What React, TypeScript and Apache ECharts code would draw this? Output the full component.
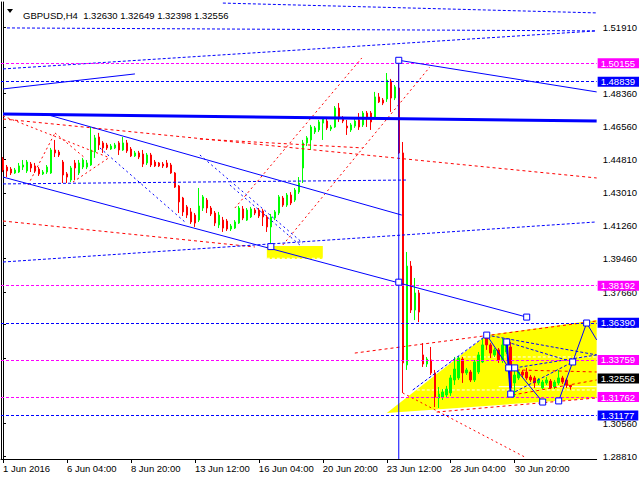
import React, { useEffect, useRef } from "react";
import * as echarts from "echarts";

// ---------- data ----------
const headerSymbol = "GBPUSD,H4";
const headerOHLC = [1.3263, 1.32649, 1.32398, 1.32556];

const timeLabels = ["1 Jun 2016", "6 Jun 04:00", "8 Jun 20:00", "13 Jun 12:00", "16 Jun 04:00", "20 Jun 20:00", "23 Jun 12:00", "28 Jun 04:00", "30 Jun 20:00"];
const barsPerLabel = 16;
const barSlots = 149;

const priceTicks = [1.5191, 1.4836, 1.4656, 1.4481, 1.4301, 1.4126, 1.3946, 1.3766, 1.3591, 1.3411, 1.3056, 1.2881];
const priceMin = 1.28659;
const priceMax = 1.53298;

const opens = [
  1.4483, 1.444, 1.4429, 1.4408, 1.4413, 1.444, 1.4419, 1.4456, 1.4446, 1.4429,
  1.4403, 1.4413, 1.4408, 1.4532, 1.4521, 1.4467, 1.4403, 1.437, 1.4462, 1.4408,
  1.444, 1.444, 1.4451, 1.4521, 1.4602, 1.457, 1.4559, 1.4537, 1.4543, 1.457,
  1.4532, 1.457, 1.4537, 1.45, 1.4516, 1.451, 1.4462, 1.4505, 1.4467, 1.4462,
  1.4456, 1.4462, 1.4451, 1.4408, 1.4338, 1.4273, 1.4225, 1.4198, 1.4181, 1.4154,
  1.4219, 1.4262, 1.4219, 1.4192, 1.4128, 1.4154, 1.4149, 1.4106, 1.4111, 1.4138,
  1.4214, 1.4154, 1.4171, 1.4208, 1.4208, 1.4203, 1.4171, 1.4117, 1.4165, 1.4192,
  1.4273, 1.4235, 1.4289, 1.4262, 1.4305, 1.4435, 1.457, 1.4586, 1.4629, 1.464,
  1.4677, 1.4688, 1.4645, 1.4656, 1.4758, 1.4704, 1.4661, 1.464, 1.4661, 1.4694,
  1.4667, 1.4731, 1.4731, 1.471, 1.4818, 1.4801, 1.4807, 1.4904, 1.4812, 1.4866,
  1.4516, 1.3373, 1.3906, 1.3669, 1.3761, 1.3427, 1.3378, 1.34, 1.333, 1.3195,
  1.32, 1.3211, 1.3222, 1.3292, 1.3303, 1.3405, 1.333, 1.3335, 1.3292, 1.3335,
  1.3389, 1.3518, 1.3481, 1.3427, 1.3454, 1.34, 1.3443, 1.347, 1.3276, 1.3303,
  1.3335, 1.3335, 1.3308, 1.3303, 1.3276, 1.3249, 1.3276, 1.3286, 1.3254, 1.3276,
  1.3303, 1.3292, 1.3263,
];
const closes = [
  1.4424, 1.4419, 1.4408, 1.4424, 1.4446, 1.4451, 1.4467, 1.4435, 1.4419, 1.4403,
  1.4413, 1.444, 1.4532, 1.4516, 1.4505, 1.4397, 1.4386, 1.4435, 1.4435, 1.4462,
  1.4478, 1.4462, 1.4532, 1.4597, 1.4559, 1.4543, 1.4543, 1.4553, 1.4559, 1.4532,
  1.457, 1.4527, 1.45, 1.4516, 1.4494, 1.4456, 1.4505, 1.4451, 1.4446, 1.4446,
  1.4446, 1.444, 1.4408, 1.4332, 1.4252, 1.4198, 1.4181, 1.4144, 1.4138, 1.423,
  1.4279, 1.4219, 1.4187, 1.4138, 1.4181, 1.4111, 1.4106, 1.4122, 1.4144, 1.4219,
  1.4165, 1.4208, 1.4214, 1.4192, 1.4176, 1.4171, 1.4117, 1.4171, 1.4198, 1.4279,
  1.4235, 1.4289, 1.4246, 1.4316, 1.4354, 1.457, 1.4597, 1.4656, 1.4651, 1.4683,
  1.4699, 1.4651, 1.4656, 1.4758, 1.471, 1.4688, 1.4651, 1.4667, 1.4688, 1.4656,
  1.4731, 1.4704, 1.4683, 1.4818, 1.4791, 1.4785, 1.4909, 1.4812, 1.4872, 1.4516,
  1.3384, 1.3906, 1.3669, 1.3761, 1.3658, 1.3378, 1.3405, 1.333, 1.32, 1.3216,
  1.3227, 1.3243, 1.3303, 1.3351, 1.341, 1.333, 1.3346, 1.3292, 1.3389, 1.3427,
  1.3481, 1.3481, 1.3437, 1.3454, 1.34, 1.3481, 1.3491, 1.3249, 1.3319, 1.3335,
  1.3319, 1.3303, 1.3292, 1.3276, 1.3292, 1.3281, 1.3292, 1.3249, 1.3281, 1.3303,
  1.3281, 1.3265, 1.32556,
];
const lows = [
  1.4413, 1.4386, 1.4397, 1.4403, 1.4408, 1.4424, 1.4408, 1.4413, 1.4408, 1.4392,
  1.4397, 1.4403, 1.4403, 1.4494, 1.4494, 1.4354, 1.4354, 1.4359, 1.437, 1.4397,
  1.4429, 1.4429, 1.4446, 1.4489, 1.4532, 1.4516, 1.4532, 1.4532, 1.4537, 1.4505,
  1.4527, 1.4516, 1.4494, 1.4494, 1.4483, 1.444, 1.4451, 1.444, 1.444, 1.444,
  1.4435, 1.4435, 1.4403, 1.4327, 1.4192, 1.4176, 1.4165, 1.4133, 1.4117, 1.4144,
  1.4203, 1.4192, 1.4176, 1.4122, 1.4111, 1.409, 1.4095, 1.4095, 1.4106, 1.4133,
  1.4154, 1.4149, 1.4165, 1.4181, 1.4165, 1.4122, 1.409, 1.403, 1.4154, 1.4181,
  1.4225, 1.4225, 1.4235, 1.4252, 1.4295, 1.4354, 1.4553, 1.4532, 1.4618, 1.4629,
  1.4586, 1.464, 1.4634, 1.4651, 1.4683, 1.4677, 1.4613, 1.4629, 1.4651, 1.464,
  1.4656, 1.4656, 1.464, 1.4699, 1.4785, 1.4774, 1.4791, 1.4737, 1.4801, 1.451,
  1.3222, 1.3346, 1.3653, 1.3615, 1.3604, 1.3362, 1.3362, 1.3319, 1.3146, 1.3141,
  1.3184, 1.32, 1.3206, 1.3265, 1.3292, 1.3276, 1.3319, 1.3281, 1.3281, 1.3324,
  1.3384, 1.3454, 1.341, 1.3416, 1.3384, 1.3384, 1.3432, 1.32, 1.32, 1.3292,
  1.3308, 1.3292, 1.3281, 1.3249, 1.3265, 1.3243, 1.3265, 1.3243, 1.3243, 1.3265,
  1.327, 1.3249, 1.32398,
];
const highs = [
  1.4494, 1.4451, 1.444, 1.4435, 1.4462, 1.4478, 1.4478, 1.4467, 1.4462, 1.444,
  1.4424, 1.4451, 1.4543, 1.4586, 1.4532, 1.4478, 1.4413, 1.4446, 1.4478, 1.4478,
  1.4489, 1.4478, 1.4656, 1.4613, 1.4624, 1.458, 1.457, 1.4564, 1.457, 1.458,
  1.4602, 1.4586, 1.4548, 1.4527, 1.4527, 1.4532, 1.4516, 1.4516, 1.4478, 1.4467,
  1.4467, 1.4478, 1.4462, 1.4413, 1.4343, 1.4279, 1.4235, 1.4219, 1.4192, 1.4327,
  1.4289, 1.4273, 1.423, 1.4203, 1.4198, 1.4171, 1.416, 1.4133, 1.4154, 1.423,
  1.423, 1.4219, 1.4225, 1.4219, 1.4219, 1.4214, 1.4181, 1.4187, 1.4208, 1.4289,
  1.4284, 1.43, 1.4305, 1.4327, 1.4386, 1.4586, 1.4607, 1.4667, 1.4661, 1.4694,
  1.471, 1.4699, 1.4667, 1.4769, 1.4785, 1.4715, 1.4694, 1.4677, 1.4699, 1.4731,
  1.4742, 1.4742, 1.4742, 1.4845, 1.4839, 1.4812, 1.4947, 1.4915, 1.4882, 1.5015,
  1.4575, 1.3982, 1.3933, 1.3842, 1.3777, 1.3491, 1.3416, 1.347, 1.3346, 1.3254,
  1.3243, 1.326, 1.3319, 1.3416, 1.3421, 1.3416, 1.3357, 1.3346, 1.34, 1.3443,
  1.3518, 1.3545, 1.3491, 1.3464, 1.3464, 1.3518, 1.3507, 1.3497, 1.3357, 1.3346,
  1.3346, 1.3357, 1.3319, 1.3314, 1.3303, 1.3292, 1.3308, 1.3297, 1.3292, 1.3346,
  1.3314, 1.3303, 1.32649,
];

// horizontal levels with value labels
const magentaLevels = [1.50155, 1.38192, 1.33759, 1.31762];
const blueLevels = [1.48839, 1.3639, 1.31177];
const currentPrice = 1.32556;

// drawn objects: [barIndex, price] pairs
const blueThickLines = [[[0, 1.4726], [148.5, 1.4688]]];
const blueSolidLines = [
  [[0, 1.4861], [33, 1.4942]],
  [[99, 1.50155], [148.5, 1.4845]],
  [[10.5, 1.4726], [99.75, 1.4181]],
  [[0, 1.4386], [131, 1.3631]],
  [[99, 1.50155], [99, 1.2866]],
  [[121, 1.3534], [126.5, 1.3357]],
  [[128, 1.3357], [135, 1.3173]],
  [[139, 1.3179], [146, 1.3599]],
  [[146, 1.3599], [148.5, 1.3508]],
];
const blueBoldShort = [[[126, 1.3497], [127, 1.3216]]];
const blueDashedLines = [
  [[55, 1.5324], [148.5, 1.5271]],
  [[1, 1.519], [148.5, 1.5174]],
  [[0, 1.4969], [148.5, 1.5174]],
  [[0, 1.4349], [101.25, 1.437]],
  [[0, 1.3928], [148.5, 1.4144]],
  [[121, 1.3534], [148.5, 1.3427]],
  [[102.5, 1.3238], [121, 1.3534]],
  [[126, 1.3497], [142.5, 1.3389]],
  [[127, 1.3216], [142.5, 1.3389]],
  [[128, 1.3357], [148.5, 1.3427]],
];
const blueDottedLines = [
  [[24.25, 1.4543], [45.5, 1.4144]],
  [[49.25, 1.4505], [75, 1.403]],
  [[56.75, 1.4343], [74.25, 1.402]],
];
const redDashedLines = [
  [[0, 1.4699], [148.5, 1.4381]],
  [[0, 1.4149], [63, 1.4009]],
  [[49.25, 1.4591], [90, 1.4543]],
  [[88, 1.3437], [148.5, 1.361]],
  [[108.5, 1.3119], [148.5, 1.3195]],
  [[127.5, 1.3211], [148.5, 1.3292]],
  [[128.5, 1.3346], [148.5, 1.3335]],
];
const redDottedLines = [
  [[58, 1.4219], [89.75, 1.5028]],
  [[70, 1.402], [106.75, 1.4979]],
  [[100, 1.3222], [131, 1.2871]],
  [[6.25, 1.4343], [13, 1.4624]],
  [[13, 1.4624], [20.5, 1.4489]],
  [[17.5, 1.4359], [26.75, 1.4494]],
  [[0, 1.4715], [26.75, 1.4489]],
];
const whiteDashedLines = [
  [[101, 1.3238], [148.5, 1.3238]],
  [[110, 1.3416], [148.5, 1.3416]],
  [[66, 1.3948], [80, 1.3948]],
];
const whiteSolidLines = [[[124, currentPrice], [148.5, currentPrice]]];
const yellowAreas = [
  [[66, 1.4014], [80, 1.4014], [80, 1.3944], [66, 1.3944]],
  [[96, 1.3114], [121, 1.3534], [148.5, 1.3615], [148.5, 1.3195]],
];
const anchorBoxes = [
  [99, 1.50155], [67, 1.4011], [99, 1.38192], [131, 1.3631], [121, 1.3534], [126, 1.3497],
  [126.5, 1.3357], [128, 1.3357], [127, 1.3216], [135, 1.3173], [139, 1.3179], [142.5, 1.3389], [146, 1.3599],
];

// ---------- chart ----------
const FONT = "'Liberation Sans', Arial, sans-serif";
const FS = 9.5;

function segSeries(segs: number[][][], color: string, width: number, type: any, z = 4) {
  return segs.map((s) => ({
    type: "line",
    xAxisIndex: 1,
    yAxisIndex: 0,
    data: s,
    showSymbol: false,
    silent: true,
    z,
    lineStyle: { color, width, type },
  }));
}

function levelItem(v: number, color: string, textColor: string, lineType: any, showLine = true) {
  return {
    yAxis: v,
    lineStyle: { color: showLine ? color : "transparent", width: 1, type: lineType },
    label: {
      show: true,
      position: "end",
      distance: 1,
      formatter: v.toFixed(5),
      backgroundColor: color,
      color: textColor,
      fontFamily: FONT,
      fontSize: FS,
      lineHeight: 8,
      padding: [1, 4, 1, 3],
    },
  };
}

export default function App() {
  const ref = useRef<HTMLDivElement>(null);
  useEffect(() => {
    if (!ref.current) return;
    const chart = echarts.init(ref.current, undefined, { renderer: "svg" });
    const cats = Array.from({ length: barSlots }, (_, i) => String(i));
    const candleData = opens.map((o, i) => [o, closes[i], lows[i], highs[i]]);
    const showTick = (idx: number) => idx % barsPerLabel === 0 && idx / barsPerLabel < timeLabels.length;

    const option: any = {
      animation: false,
      backgroundColor: "#ffffff",
      title: {
        text: headerSymbol + "  " + headerOHLC.map((v) => v.toFixed(5)).join(" "),
        left: 18,
        top: 5,
        textStyle: { fontFamily: FONT, fontSize: FS, fontWeight: "normal", color: "#000" },
      },
      graphic: [
        { type: "polygon", shape: { points: [[7, 9], [13, 9], [10, 13]] }, style: { fill: "#000" } },
      ],
      grid: { left: 1, right: 43, top: 2, bottom: 21 },
      xAxis: [
        {
          type: "category",
          data: cats,
          boundaryGap: true,
          axisLine: { show: true, lineStyle: { color: "#000", width: 1 } },
          axisTick: { show: true, alignWithLabel: true, length: 4, interval: (i: number) => showTick(i), lineStyle: { color: "#000" } },
          axisLabel: {
            interval: (i: number) => showTick(i),
            formatter: (_v: string, i: number) => timeLabels[Math.round(i / barsPerLabel)] ?? "",
            align: "left",
            margin: 4,
            color: "#000",
            fontFamily: FONT,
            fontSize: FS,
          },
          splitLine: { show: false },
        },
        { type: "value", min: -0.5, max: barSlots - 0.5, show: false },
      ],
      yAxis: [
        {
          type: "value",
          position: "right",
          min: priceMin,
          max: priceMax,
          axisLine: { show: true, lineStyle: { color: "#000", width: 1 } },
          axisTick: { show: true, length: 3, customValues: priceTicks, lineStyle: { color: "#000" } },
          axisLabel: {
            customValues: priceTicks,
            formatter: (v: number) => v.toFixed(5),
            margin: 6,
            color: "#000",
            fontFamily: FONT,
            fontSize: FS,
            lineHeight: 8,
          },
          splitLine: { show: false },
        },
        {
          type: "value",
          position: "left",
          min: priceMin,
          max: priceMax,
          axisLine: { show: true, lineStyle: { color: "#000", width: 1 } },
          axisTick: { show: false },
          axisLabel: { show: false },
          splitLine: { show: false },
        },
      ],
      series: [
        {
          type: "custom",
          xAxisIndex: 1,
          yAxisIndex: 0,
          z: 1,
          silent: true,
          clip: true,
          data: yellowAreas.map((p) => [p[0][0], p[0][1]]),
          renderItem: (params: any, api: any) => {
            const poly = yellowAreas[params.dataIndex];
            return {
              type: "polygon",
              shape: { points: poly.map((pt) => api.coord(pt)) },
              style: { fill: "#ffff00", stroke: "none" },
            };
          },
        },
        {
          type: "candlestick",
          xAxisIndex: 0,
          yAxisIndex: 0,
          z: 3,
          barWidth: 2,
          data: candleData,
          itemStyle: {
            color: "#00ff00",
            color0: "#ff0000",
            borderColor: "#00ff00",
            borderColor0: "#ff0000",
            borderWidth: 1,
          },
          markLine: {
            silent: true,
            symbol: "none",
            animation: false,
            data: [
              ...magentaLevels.map((v) => levelItem(v, "#ff00ff", "#ffffff", [3, 2])),
              ...blueLevels.map((v) => levelItem(v, "#0000ff", "#ffffff", [3, 2])),
              levelItem(currentPrice, "#000000", "#ffffff", "solid", false),
            ],
          },
        },
        ...segSeries(whiteSolidLines, "#ffffff", 1, "solid", 2),
        ...segSeries(whiteDashedLines, "#ffffff", 1, [3, 2], 2),
        ...segSeries(redDashedLines, "#ff0000", 1, [3, 3]),
        ...segSeries(redDottedLines, "#ff0000", 1, [2, 3]),
        ...segSeries(blueDashedLines, "#0000ff", 1, [3, 2]),
        ...segSeries(blueDottedLines, "#0000ff", 1, [2, 3]),
        ...segSeries(blueSolidLines, "#0000ff", 1, "solid", 5),
        ...segSeries(blueBoldShort, "#0000ff", 2, "solid", 5),
        ...segSeries(blueThickLines, "#0000ff", 3, "solid", 5),
        {
          type: "scatter",
          xAxisIndex: 1,
          yAxisIndex: 0,
          z: 6,
          silent: true,
          symbol: "rect",
          symbolSize: 6,
          data: anchorBoxes,
          itemStyle: { color: "#ffffff", borderColor: "#0000ff", borderWidth: 1, opacity: 1 },
        },
      ],
    };
    chart.setOption(option);
    return () => chart.dispose();
  }, []);
  return <div ref={ref} style={{ width: 640, height: 480, position: "absolute", left: 0, top: 0 }} />;
}
